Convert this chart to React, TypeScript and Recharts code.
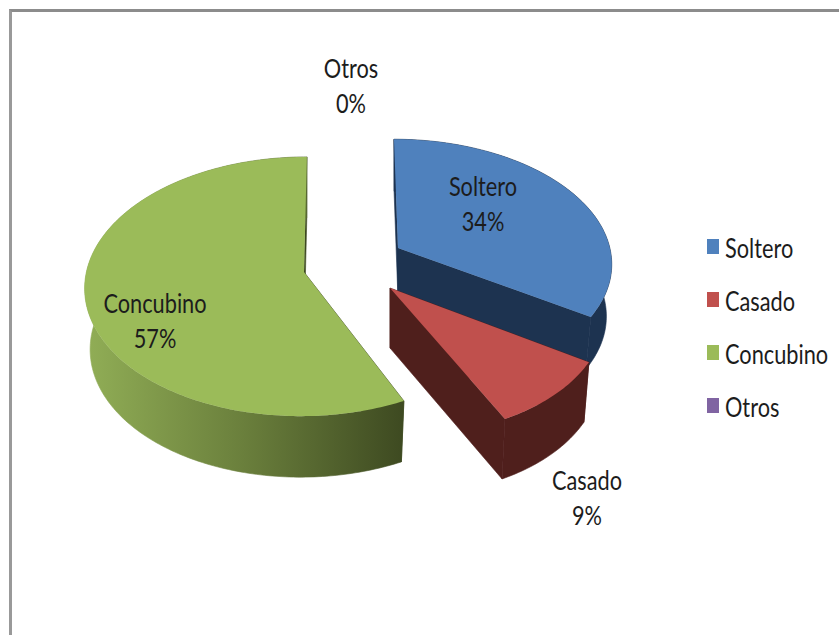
import React from 'react';
import { PieChart, Pie, Legend } from 'recharts';

const categories = ['Soltero', 'Casado', 'Concubino', 'Otros'];
const values = [34, 9, 57, 0];
const colors = ['#4f81bd', '#c0504d', '#9bbb59', '#8064a2'];
const sideColors = ['#1d3350', '#4f1f1c', 'url(#greenSide)', '#3f2f52'];

const data = categories.map((name, i) => ({ name, value: values[i], fill: colors[i] }));

// explode offset + per slice size, the original is a perspective 3D pie
const CX = 350;
const CY = 270;
const RADIUS = 128;
const PERSPECTIVE = 0.112;
const WALL_SHRINK = 0.975;
const sliceGeom: Record<string, { dx: number; dy: number; sx: number; sy: number; skew: number; depth: number }> = {
  Soltero: { dx: 48, dy: -22, sx: 1.655, sy: 0.945, skew: 0.037, depth: 52 },
  Casado: { dx: 40, dy: 18, sx: 1.66, sy: 1.016, skew: 0.109, depth: 60 },
  Concubino: { dx: -46, dy: 2, sx: 1.7, sy: 1, skew: -0.025, depth: 61 },
  Otros: { dx: 0, dy: 0, sx: 1.7, sy: 1, skew: 0, depth: 61 },
};

const labelPos: Record<string, { x: number; y: number }> = {
  Soltero: { x: 133, y: -65 },
  Casado: { x: 237, y: 229 },
  Concubino: { x: -195, y: 52 },
  Otros: { x: 1, y: -183 },
};

const FONT = 'Lato, "Open Sans", sans-serif';

const PieSlice = (props: any) => {
  const { cx, cy, outerRadius, startAngle, endAngle, fill, name } = props;
  const g = sliceGeom[name] || sliceGeom.Otros;
  const index = categories.indexOf(name);
  const ax = cx + g.dx;
  const ay = cy + g.dy;
  const t0 = 90 - startAngle;
  const t1 = 90 - endAngle;
  if (t1 - t0 <= 0) return <g />;

  const project = (deg: number) => {
    const r = (deg * Math.PI) / 180;
    const d = 1 + PERSPECTIVE * Math.cos(r);
    const y = (-outerRadius * g.sy * Math.cos(r)) / d;
    const x = (outerRadius * g.sx * Math.sin(r)) / d + g.skew * y;
    return { x, y };
  };
  const top = (p: { x: number; y: number }) => `${ax + p.x} ${ay + p.y}`;
  const low = (p: { x: number; y: number }) => `${ax + p.x * WALL_SHRINK} ${ay + p.y + g.depth}`;

  const sweep = (a: number, b: number) => {
    const pts = [];
    const n = Math.max(2, Math.ceil(Math.abs(b - a)));
    for (let i = 0; i <= n; i++) pts.push(project(a + ((b - a) * i) / n));
    return pts;
  };

  const arc = sweep(t0, t1);
  const topPath = `M${ax} ${ay}L${arc.map(top).join('L')}Z`;
  const apexLow = `${ax} ${ay + g.depth}`;
  const cutA = project(t0);
  const cutB = project(t1);
  const cutAPath = `M${ax} ${ay}L${top(cutA)}L${low(cutA)}L${apexLow}Z`;
  const cutBPath = `M${ax} ${ay}L${top(cutB)}L${low(cutB)}L${apexLow}Z`;
  const wallPath = `M${arc.map(top).join('L')}L${arc.slice().reverse().map(low).join('L')}Z`;
  const side = sideColors[index];
  const cutFill = index === 2 ? '#3e4a21' : side;

  return (
    <g>
      <defs>
        <linearGradient id="greenSide" gradientUnits="userSpaceOnUse" x1={85} y1={0} x2={403} y2={0}>
          <stop offset="0%" stopColor="#91ae56" />
          <stop offset="50%" stopColor="#6a7f3c" />
          <stop offset="100%" stopColor="#3e4a21" />
        </linearGradient>
      </defs>
      <path d={cutAPath} fill={cutFill} stroke={cutFill} strokeWidth={0.6} />
      <path d={cutBPath} fill={cutFill} stroke={cutFill} strokeWidth={0.6} />
      <path d={wallPath} fill={side} stroke={side} strokeWidth={0.6} />
      <path d={topPath} fill={fill} />
    </g>
  );
};

const renderLabel = (props: any) => {
  const { cx, cy, name, percent } = props;
  const p = labelPos[name];
  const style = { fontFamily: FONT, fontSize: 25, fill: '#1c1c1c' };
  return (
    <g transform={`translate(${cx + p.x},${cy + p.y}) scale(0.87,1.1)`}>
      <text x={0} y={-8} textAnchor="middle" style={style}>{name}</text>
      <text x={0} y={24} textAnchor="middle" style={style}>{`${Math.round(percent * 100)}%`}</text>
    </g>
  );
};

const renderLegend = () => (
  <div>
    {data.map((d) => (
      <div key={d.name} style={{ height: 53, display: 'flex', alignItems: 'center', whiteSpace: 'nowrap' }}>
        <span style={{ width: 12, height: 15, flexShrink: 0, background: d.fill, display: 'inline-block', marginRight: 6 }} />
        <span style={{ fontFamily: FONT, fontSize: 25, color: '#1c1c1c', transform: 'scale(0.87,1.1)', transformOrigin: 'left center', display: 'inline-block' }}>
          {d.name}
        </span>
      </div>
    ))}
  </div>
);

export default function App() {
  return (
    <div style={{ position: 'absolute', left: 0, top: 0, width: 839, height: 635, background: '#fff', overflow: 'hidden' }}>
      <div style={{ position: 'absolute', left: 9, top: 9, right: 0, bottom: 0, borderTop: '3px solid #8c8c8c', borderLeft: '3px solid #999' }} />
      <PieChart width={839} height={635} margin={{ top: 0, right: 0, bottom: 0, left: 0 }}>
        <Pie
          data={data}
          dataKey="value"
          nameKey="name"
          cx={CX}
          cy={CY}
          outerRadius={RADIUS}
          startAngle={90}
          endAngle={-270}
          stroke="none"
          shape={PieSlice}
          label={renderLabel}
          labelLine={false}
          isAnimationActive={false}
        />
        <Legend
          layout="vertical"
          align="right"
          verticalAlign="top"
          content={renderLegend}
          wrapperStyle={{ left: 707, top: 220, width: 132 }}
        />
      </PieChart>
    </div>
  );
}
